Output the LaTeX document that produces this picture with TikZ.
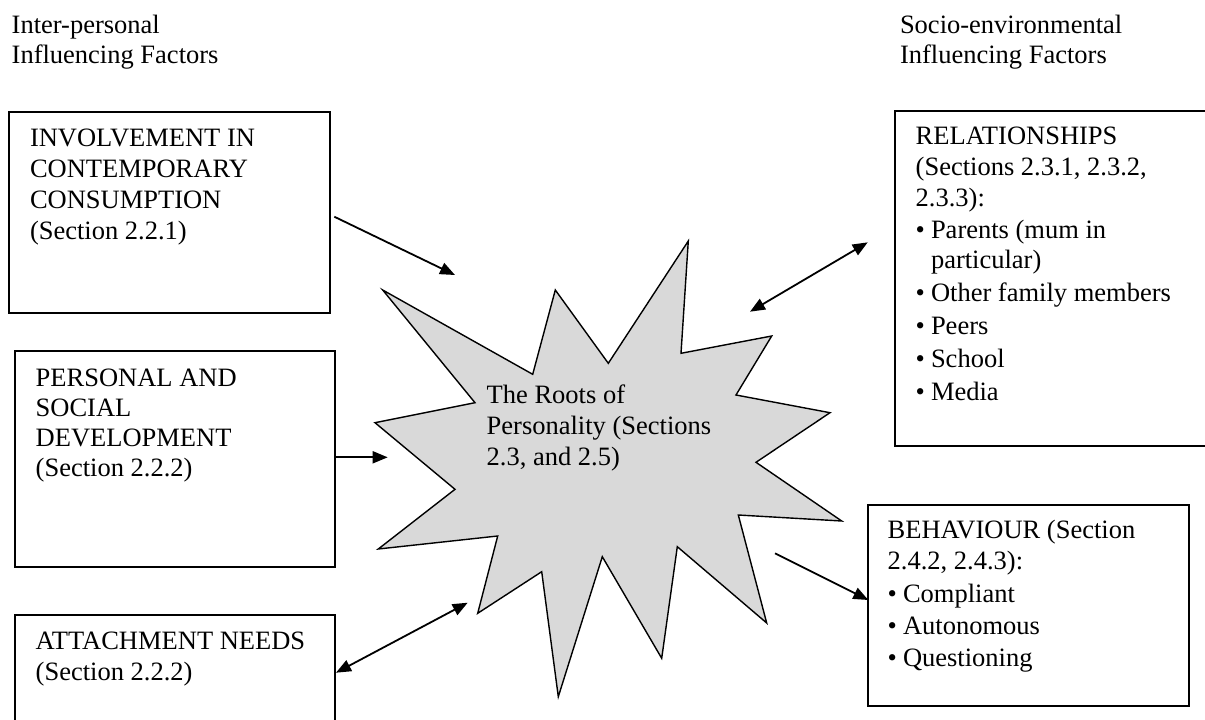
\documentclass[tikz,border=0pt]{standalone}
\usepackage{fontspec}
\setmainfont{Liberation Serif}
\usetikzlibrary{arrows.meta,calc}
\definecolor{burst}{RGB}{217,217,217}
% bullet with a fixed hanging indent
\newcommand\bul{\makebox[15.3pt][l]{\textbullet}}
\newcommand\bulgap{\hspace*{15.3pt}}
\begin{document}
\begin{tikzpicture}[x=1pt,y=-1pt,
  panel/.style={draw,line width=1.8pt,rectangle,inner sep=0pt,outer sep=0pt,anchor=north west},
  % multi-line texts are placed by the baseline of their last line
  txt/.style={anchor=base west,align=left,inner sep=0pt,outer sep=0pt},
  link/.style={line width=1.8pt,-{Triangle[length=15pt,width=12pt]}},
  twoway/.style={line width=1.8pt,{Triangle[length=15pt,width=12pt]}-{Triangle[length=15pt,width=12pt]}},
]
\useasboundingbox (0,0) rectangle (1205,720);
\clip (0,0) rectangle (1205,720);

% column headings
\node[txt,font=\fontsize{26.5}{30}\selectfont] (hdL) at (11.7,63.3) {Inter-personal\\Influencing Factors};
\node[txt,font=\fontsize{26.5}{30}\selectfont] (hdR) at (900,63.3) {Socio-environmental\\Influencing Factors};

% the central burst
\path[draw,fill=burst,line width=1.4pt,line join=miter]
  (382.7,290) -- (532.7,374.3) -- (555.3,290) -- (608.3,363.3) -- (688.3,241) -- (681,353.3)
  -- (771.7,336) -- (736,395) -- (830,412.7) -- (756,462.3) -- (841.7,521) -- (738.3,515)
  -- (766.7,623) -- (677.3,546.7) -- (661.7,658.3) -- (602.3,556.7) -- (558.3,696.7) -- (541.7,571.7)
  -- (477.7,613.3) -- (497.7,536) -- (378.3,549) -- (455,489.3) -- (375,422.7) -- (475,402.7) -- cycle;
\node[txt,font=\fontsize{26.5}{31}\selectfont] (roots) at (486.7,465) {The Roots of\\Personality (Sections\\2.3, and 2.5)};

% left-hand boxes
\node[panel,minimum width=321.3pt,minimum height=201pt] (b1) at (8.7,112.3) {};
\node[txt,font=\fontsize{26.5}{30.8}\selectfont] (t1) at (30,239) {INVOLVEMENT IN\\CONTEMPORARY\\CONSUMPTION\\(Section 2.2.1)};

\node[panel,minimum width=320pt,minimum height=216pt] (b2) at (15,350.7) {};
\node[txt,font=\fontsize{26.5}{30.2}\selectfont] (t2) at (35.7,476.7) {PERSONAL AND\\SOCIAL\\DEVELOPMENT\\(Section 2.2.2)};

\node[panel,minimum width=320pt,minimum height=160pt] (b3) at (15,615) {};
\node[txt,font=\fontsize{26.5}{30.7}\selectfont] (t3) at (35.7,680) {ATTACHMENT NEEDS\\(Section 2.2.2)};

% right-hand boxes
\node[panel,minimum width=340pt,minimum height=335.3pt] (rel) at (895,110.7) {};
\node[txt,font=\fontsize{26.5}{30.7}\selectfont] (t4) at (915.7,400)
  {RELATIONSHIPS\\(Sections 2.3.1, 2.3.2,\\2.3.3):\\[1pt]\bul Parents (mum in\\\bulgap particular)\\[2.5pt]\bul Other family members\\[2pt]\bul Peers\\[2pt]\bul School\\[2pt]\bul Media};

\node[panel,minimum width=320.7pt,minimum height=201pt] (beh) at (868.3,505) {};
\node[txt,font=\fontsize{26.5}{30.7}\selectfont] (t5) at (887.7,666.7)
  {BEHAVIOUR (Section\\2.4.2, 2.4.3):\\[2.5pt]\bul Compliant\\[1pt]\bul Autonomous\\[1.5pt]\bul Questioning};

% free ends of the connectors beside the burst
\coordinate (s1) at (455,275);
\coordinate (s2) at (387.7,457.3);
\coordinate (s3) at (467.7,602.7);
\coordinate (s4) at (750,311.7);
\coordinate (s5) at (775,553.3);

% connectors
\draw[link] ($(b1.east)+(4.3,3.9)$) -- (s1);
\draw[link] ($(b2.east)+(0,-1.4)$) -- (s2);
\draw[twoway] ($(b3.north east)+(1,57.7)$) -- (s3);
\draw[twoway] (s4) -- ($(rel.west)+(-27.3,-36)$);
\draw[link] (s5) -- ($(beh.west)+(0,-5.5)$);
\end{tikzpicture}
\end{document}
